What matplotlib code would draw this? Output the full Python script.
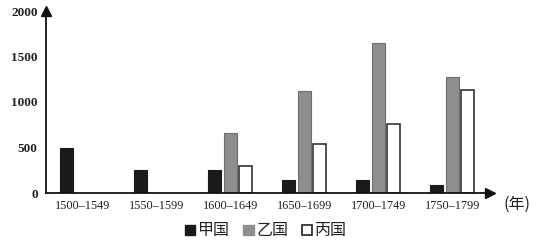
import numpy as np
import matplotlib
matplotlib.use('Agg')
from matplotlib import pyplot as plt
from matplotlib.patches import Patch

plt.rcParams['font.family'] = ['Noto Sans CJK SC', 'DejaVu Sans']

# data
periods = ['1500\u20131549', '1550\u20131599', '1600\u20131649',
           '1650\u20131699', '1700\u20131749', '1750\u20131799']
jia = [495, 255, 255, 145, 145, 85]
yi = [0, 0, 655, 1120, 1650, 1275]
bing = [0, 0, 295, 535, 755, 1135]
names = ['甲国', '乙国', '丙国']
yticks = [0, 500, 1000, 1500, 2000]

fig = plt.figure(figsize=(5.54, 2.46), dpi=100)
ax = fig.add_axes([46/554, 53/246, 444/554, 182/246])

x = np.arange(len(periods))
off = 0.21
w = 0.18
ax.bar(x - off, jia, w, color='#1a1a1a', edgecolor='#1a1a1a', linewidth=0.8)
ax.bar(x[2:], yi[2:], w, color='#8e8e8e', edgecolor='#6e6e6e', linewidth=0.8)
ax.bar(x[2:] + off, bing[2:], w, color='white', edgecolor='#333333', linewidth=1.2)

ax.set_xlim(-0.49, 5.51)
ax.set_ylim(0, 2000)
ax.set_xticks(x)
ax.set_xticklabels(periods, family='Liberation Serif', fontsize=8.8, color='#222222')
ax.set_yticks(yticks)
ax.set_yticklabels([str(v) for v in yticks], family='Liberation Serif',
                   fontsize=9.5, color='#222222', fontweight='bold')
ax.tick_params(length=0)
ax.tick_params(axis='y', pad=6)
ax.tick_params(axis='x', pad=5)

for s in ['top', 'right']:
    ax.spines[s].set_visible(False)
for s in ['left', 'bottom']:
    ax.spines[s].set_linewidth(1.3)
    ax.spines[s].set_color('#111111')

# arrow heads at the ends of the axes
ax.plot(1, 0, '>', color='#111111', markersize=7, transform=ax.transAxes, clip_on=False)
ax.plot(0, 1, '^', color='#111111', markersize=7, transform=ax.transAxes, clip_on=False)

fig.text(517/554, 1 - 204/246, '(年)', fontsize=11.5, ha='center', va='center', color='#222222')

handles = [Patch(facecolor='#1a1a1a', edgecolor='#1a1a1a'),
           Patch(facecolor='#8e8e8e', edgecolor='#8e8e8e'),
           Patch(facecolor='white', edgecolor='#222222', linewidth=1.2)]
fig.legend(handles, names, loc='center', bbox_to_anchor=(266/554, 1 - 231/246),
           ncol=3, frameon=False, fontsize=11.5, handlelength=0.65, handleheight=0.65,
           handletextpad=0.2, columnspacing=0.8, labelcolor='#222222')

fig.savefig('out.png', dpi=100)
